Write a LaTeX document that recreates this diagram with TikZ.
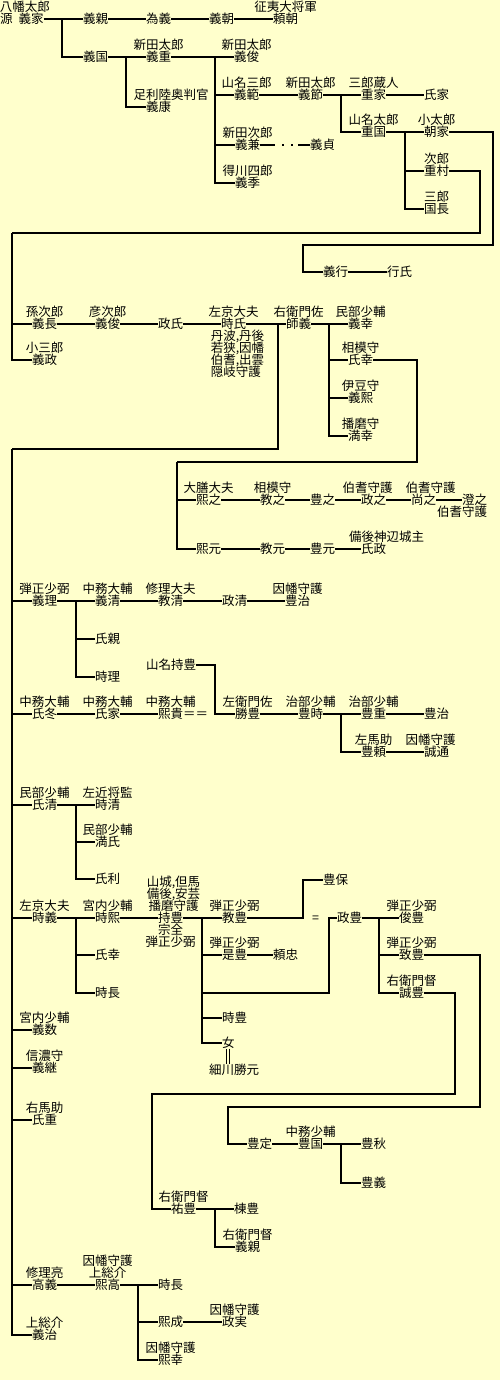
\documentclass[tikz,border=0pt]{standalone}
\usepackage{fontspec}
\newfontfamily\jpfont{Noto Sans CJK JP}
\usetikzlibrary{positioning}
\definecolor{paper}{HTML}{FFFFCC}
\setlength{\lineskiplimit}{-10pt}

\begin{document}
\begin{tikzpicture}[x=1pt, y=-1pt, line width=1.2pt,
  nm/.style={anchor=west, inner sep=0pt, outer sep=0pt, text height=10.5pt, text depth=0.9pt,
    font=\jpfont\fontsize{12.5}{12}\selectfont},
  ttl/.style={inner sep=0pt, outer sep=0pt, text height=10.5pt, text depth=0.9pt,
    font=\jpfont\fontsize{12.5}{12}\selectfont},
  note/.style={inner sep=0pt, outer sep=0pt, font=\jpfont\fontsize{12.5}{12}\selectfont}]
\fill[paper] (0,0) rectangle (500,1380);
\useasboundingbox (0,0) rectangle (500,1380);

% --- Minamoto main line
\node[nm] (yoshiie) at (0,19) {源\hspace{6pt}義家};
\node[ttl, above=0.6pt of yoshiie, xshift=3pt] (yoshiie-t) {八幡太郎};
\node[nm] (yoshichika) at (83,19) {義親};
\node[nm] (tameyoshi) at (146,19) {為義};
\node[nm] (yoshitomo) at (209,19) {義朝};
\node[nm] (yoritomo) at (273,19) {頼朝};
\node[ttl, above=0.6pt of yoritomo] (yoritomo-t) {征夷大将軍};

% --- Nitta / Yamana
\node[nm] (yoshikuni) at (83,57) {義国};
\node[nm] (yoshishige) at (146,57) {義重};
\node[ttl, above=0.6pt of yoshishige] (yoshishige-t) {新田太郎};
\node[nm] (yoshiyasu) at (146,107) {義康};
\node[ttl, above=0.6pt of yoshiyasu, xshift=12.5pt] (yoshiyasu-t) {足利陸奥判官};
\node[nm] (yoshitoshiA) at (234,57) {義俊};
\node[ttl, above=0.6pt of yoshitoshiA] (yoshitoshiA-t) {新田太郎};
\node[nm] (yoshinori) at (234,95) {義範};
\node[ttl, above=0.6pt of yoshinori] (yoshinori-t) {山名三郎};
\node[nm] (yoshitoki) at (298,95) {義節};
\node[ttl, above=0.6pt of yoshitoki] (yoshitoki-t) {新田太郎};
\node[nm] (shigeie) at (361,95) {重家};
\node[ttl, above=0.6pt of shigeie] (shigeie-t) {三郎蔵人};
\node[nm] (ujiieA) at (424,95) {氏家};
\node[nm] (shigekuni) at (361,132) {重国};
\node[ttl, above=0.6pt of shigekuni] (shigekuni-t) {山名太郎};
\node[nm] (tomoie) at (424,132) {朝家};
\node[ttl, above=0.6pt of tomoie] (tomoie-t) {小太郎};
\node[nm] (shigemura) at (424,171) {重村};
\node[ttl, above=0.6pt of shigemura] (shigemura-t) {次郎};
\node[nm] (kuninaga) at (424,209) {国長};
\node[ttl, above=0.6pt of kuninaga] (kuninaga-t) {三郎};
\node[nm] (yoshikane) at (235,145) {義兼};
\node[ttl, above=0.6pt of yoshikane] (yoshikane-t) {新田次郎};
\node[nm] (yoshisada) at (310,145) {義貞};
\node[nm] (yoshisue) at (235,183) {義季};
\node[ttl, above=0.6pt of yoshisue] (yoshisue-t) {得川四郎};
\node[nm] (yoshiyukiA) at (323,272) {義行};
\node[nm] (yukiuji) at (387,272) {行氏};

\draw (yoshiie) -- (yoshichika) (yoshichika) -- (tameyoshi)
  (tameyoshi) -- (yoshitomo) (yoshitomo) -- (yoritomo);
\draw (yoshikuni) -- (yoshishige) (yoshishige) -- (yoshitoshiA);
\draw (yoshinori) -- (yoshitoki) (yoshitoki) -- (shigeie) (shigeie) -- (ujiieA);
\draw (shigekuni) -- (tomoie);
\draw (yoshiyukiA) -- (yukiuji);
\draw[dash pattern=on 15pt off 7pt on 2pt off 7pt on 2pt off 5pt on 30pt off 1pt]
  (yoshikane) -- (yoshisada);
\coordinate (j1) at (62,19);
\coordinate (j2) at (126,57);
\coordinate (j3) at (215,57);
\coordinate (j4) at (341,95);
\coordinate (j5) at (405,132);
\draw (j1) |- (yoshikuni);
\draw (j2) |- (yoshiyasu);
\foreach \k in {yoshinori,yoshikane,yoshisue} \draw (j3) |- (\k);
\draw (j4) |- (shigekuni);
\foreach \k in {shigemura,kuninaga} \draw (j5) |- (\k);
\coordinate (c1) at (493,245);
\coordinate (c2) at (303,272);
\draw (tomoie) -| (c1) -| (c2) -- (yoshiyukiA);

% --- Yamana, from Shigemura
\node[nm] (yoshinaga) at (32,324) {義長};
\node[ttl, above=0.6pt of yoshinaga] (yoshinaga-t) {孫次郎};
\node[nm] (yoshimasa) at (32,360) {義政};
\node[ttl, above=0.6pt of yoshimasa] (yoshimasa-t) {小三郎};
\node[nm] (yoshitoshiB) at (95,324) {義俊};
\node[ttl, above=0.6pt of yoshitoshiB] (yoshitoshiB-t) {彦次郎};
\node[nm] (masauji) at (158,324) {政氏};
\node[nm] (tokiuji) at (221,324) {時氏};
\node[ttl, above=0.6pt of tokiuji] (tokiuji-t) {左京大夫};
\node[note, align=left, below=0.6pt of tokiuji, xshift=4pt] (tokiuji-n)
  {丹波,丹後\\若狭,因幡\\伯耆,出雲\\隠岐守護};
\node[nm] (moroyoshi) at (286,324) {師義};
\node[ttl, above=0.6pt of moroyoshi] (moroyoshi-t) {右衛門佐};
\node[nm] (yoshiyukiB) at (348,324) {義幸};
\node[ttl, above=0.6pt of yoshiyukiB] (yoshiyukiB-t) {民部少輔};
\node[nm] (ujiyukiA) at (348,360) {氏幸};
\node[ttl, above=0.6pt of ujiyukiA] (ujiyukiA-t) {相模守};
\node[nm] (yoshihiro) at (348,398) {義熙};
\node[ttl, above=0.6pt of yoshihiro] (yoshihiro-t) {伊豆守};
\node[nm] (mitsuyuki) at (348,436) {満幸};
\node[ttl, above=0.6pt of mitsuyuki] (mitsuyuki-t) {播磨守};

\coordinate (c3) at (480,233);
\coordinate (sA) at (12,233);
\draw (shigemura) -| (c3) -- (sA);
\foreach \k in {yoshinaga,yoshimasa} \draw (sA) |- (\k);
\draw (yoshinaga) -- (yoshitoshiB) (yoshitoshiB) -- (masauji) (masauji) -- (tokiuji)
  (tokiuji) -- (moroyoshi) (moroyoshi) -- (yoshiyukiB);
\coordinate (j7) at (329,324);
\foreach \k in {ujiyukiA,yoshihiro,mitsuyuki} \draw (j7) |- (\k);

% --- Hoki line, from Ujiyuki
\node[nm] (hiroyuki) at (196,500) {熙之};
\node[ttl, above=0.6pt of hiroyuki] (hiroyuki-t) {大膳大夫};
\node[nm] (noriyuki) at (260,500) {教之};
\node[ttl, above=0.6pt of noriyuki] (noriyuki-t) {相模守};
\node[nm] (toyoyuki) at (310,500) {豊之};
\node[nm] (masayuki) at (361,500) {政之};
\node[ttl, above=0.6pt of masayuki, xshift=-6pt] (masayuki-t) {伯耆守護};
\node[nm] (hisayuki) at (411,500) {尚之};
\node[ttl, above=0.6pt of hisayuki, xshift=7pt] (hisayuki-t) {伯耆守護};
\node[nm] (sumiyuki) at (462,500) {澄之};
\node[ttl, below=0.6pt of sumiyuki, xshift=-12.5pt] (sumiyuki-n) {伯耆守護};
\node[nm] (hiromoto) at (196,549) {熙元};
\node[nm] (norimoto) at (260,549) {教元};
\node[nm] (toyomoto) at (310,549) {豊元};
\node[nm] (ujimasa) at (361,549) {氏政};
\node[ttl, above=0.6pt of ujimasa, xshift=13pt] (ujimasa-t) {備後神辺城主};

\coordinate (c5) at (417,462);
\coordinate (sC) at (177,462);
\draw (ujiyukiA) -| (c5) -- (sC);
\foreach \k in {hiroyuki,hiromoto} \draw (sC) |- (\k);
\draw (hiroyuki) -- (noriyuki) (noriyuki) -- (toyoyuki) (toyoyuki) -- (masayuki)
  (masayuki) -- (hisayuki) (hisayuki) -- (sumiyuki);
\draw (hiromoto) -- (norimoto) (norimoto) -- (toyomoto) (toyomoto) -- (ujimasa);

% --- sons of Moroyoshi
\node[nm] (yoshitada) at (32,601) {義理};
\node[ttl, above=0.6pt of yoshitada] (yoshitada-t) {弾正少弼};
\node[nm] (yoshikiyo) at (95,601) {義清};
\node[ttl, above=0.6pt of yoshikiyo] (yoshikiyo-t) {中務大輔};
\node[nm] (norikiyo) at (158,601) {教清};
\node[ttl, above=0.6pt of norikiyo] (norikiyo-t) {修理大夫};
\node[nm] (masakiyo) at (222,601) {政清};
\node[nm] (toyoharuA) at (285,601) {豊治};
\node[ttl, above=0.6pt of toyoharuA] (toyoharuA-t) {因幡守護};
\node[nm] (ujichika) at (95,639) {氏親};
\node[nm] (tokitada) at (95,677) {時理};
\node[nm] (mochitoyoA) at (146,665) {山名持豊};

\node[nm] (ujifuyu) at (32,714) {氏冬};
\node[ttl, above=0.6pt of ujifuyu] (ujifuyu-t) {中務大輔};
\node[nm] (ujiieB) at (95,714) {氏家};
\node[ttl, above=0.6pt of ujiieB] (ujiieB-t) {中務大輔};
\node[nm] (hirotaka) at (158,714) {熙貴＝＝};
\node[ttl, above=0.6pt of hirotaka, xshift=-12.5pt] (hirotaka-t) {中務大輔};
\node[nm] (katsutoyo) at (235,714) {勝豊};
\node[ttl, above=0.6pt of katsutoyo] (katsutoyo-t) {左衛門佐};
\node[nm] (toyotoki) at (298,714) {豊時};
\node[ttl, above=0.6pt of toyotoki] (toyotoki-t) {治部少輔};
\node[nm] (toyoshige) at (361,714) {豊重};
\node[ttl, above=0.6pt of toyoshige] (toyoshige-t) {治部少輔};
\node[nm] (toyoharuB) at (424,714) {豊治};
\node[nm] (toyoyori) at (361,752) {豊頼};
\node[ttl, above=0.6pt of toyoyori] (toyoyori-t) {左馬助};
\node[nm] (nobumichi) at (424,752) {誠通};
\node[ttl, above=0.6pt of nobumichi, xshift=-6pt] (nobumichi-t) {因幡守護};

\node[nm] (ujikiyo) at (32,805) {氏清};
\node[ttl, above=0.6pt of ujikiyo] (ujikiyo-t) {民部少輔};
\node[nm] (tokikiyo) at (95,805) {時清};
\node[ttl, above=0.6pt of tokikiyo] (tokikiyo-t) {左近将監};
\node[nm] (mitsuuji) at (95,842) {満氏};
\node[ttl, above=0.6pt of mitsuuji] (mitsuuji-t) {民部少輔};
\node[nm] (ujitoshi) at (95,879) {氏利};

\node[nm] (tokiyoshi) at (32,918) {時義};
\node[ttl, above=0.6pt of tokiyoshi] (tokiyoshi-t) {左京大夫};
\node[nm] (tokihiro) at (95,918) {時熙};
\node[ttl, above=0.6pt of tokihiro] (tokihiro-t) {宮内少輔};
\node[nm] (ujiyukiB) at (95,955) {氏幸};
\node[nm] (tokinagaA) at (95,993) {時長};
\node[nm] (mochitoyo) at (158,918) {持豊};
\node[note, align=center, above=0.6pt of mochitoyo, xshift=3pt] (mochitoyo-t)
  {山城,但馬\\備後,安芸\\播磨守護};
\node[note, align=center, below=0.6pt of mochitoyo] (mochitoyo-n) {宗全\\弾正少弼};
\node[nm] (noritoyo) at (222,918) {教豊};
\node[ttl, above=0.6pt of noritoyo] (noritoyo-t) {弾正少弼};
\node[nm] (toyoyasu) at (323,880) {豊保};
\node[nm] (eq) at (312,918) {=};
\node[nm] (koretoyo) at (222,955) {是豊};
\node[ttl, above=0.6pt of koretoyo] (koretoyo-t) {弾正少弼};
\node[nm] (yoritada) at (273,955) {頼忠};
\node[nm] (masatoyo) at (337,918) {政豊};
\node[nm] (toshitoyo) at (399,918) {俊豊};
\node[ttl, above=0.6pt of toshitoyo] (toshitoyo-t) {弾正少弼};
\node[nm] (okitoyo) at (399,955) {致豊};
\node[ttl, above=0.6pt of okitoyo] (okitoyo-t) {弾正少弼};
\node[nm] (nobutoyo) at (399,993) {誠豊};
\node[ttl, above=0.6pt of nobutoyo] (nobutoyo-t) {右衛門督};
\node[nm] (tokitoyo) at (222,1018) {時豊};
\node[nm] (onna) at (222,1043) {女};
\node[nm] (katsumoto) at (209,1070) {細川勝元};

\node[nm] (yoshikazu) at (32,1030) {義数};
\node[ttl, above=0.6pt of yoshikazu] (yoshikazu-t) {宮内少輔};
\node[nm] (yoshitsugu) at (32,1068) {義継};
\node[ttl, above=0.6pt of yoshitsugu] (yoshitsugu-t) {信濃守};
\node[nm] (ujishige) at (32,1120) {氏重};
\node[ttl, above=0.6pt of ujishige] (ujishige-t) {右馬助};

\node[nm] (toyosada) at (247,1144) {豊定};
\node[nm] (toyokuni) at (298,1144) {豊国};
\node[ttl, above=0.6pt of toyokuni] (toyokuni-t) {中務少輔};
\node[nm] (toyoaki) at (361,1144) {豊秋};
\node[nm] (toyoyoshi) at (361,1183) {豊義};
\node[nm] (suketoyo) at (171,1209) {祐豊};
\node[ttl, above=0.6pt of suketoyo] (suketoyo-t) {右衛門督};
\node[nm] (munetoyo) at (234,1209) {棟豊};
\node[nm] (yoshichikaB) at (235,1247) {義親};
\node[ttl, above=0.6pt of yoshichikaB] (yoshichikaB-t) {右衛門督};

\node[nm] (takayoshi) at (32,1285) {高義};
\node[ttl, above=0.6pt of takayoshi] (takayoshi-t) {修理亮};
\node[nm] (hirotakaB) at (95,1285) {熙高};
\node[note, align=center, above=0.6pt of hirotakaB] (hirotakaB-t) {因幡守護\\上総介};
\node[nm] (tokinagaB) at (158,1285) {時長};
\node[nm] (hironari) at (158,1322) {熙成};
\node[nm] (masazane) at (222,1322) {政実};
\node[ttl, above=0.6pt of masazane] (masazane-t) {因幡守護};
\node[nm] (hiroyukiB) at (158,1360) {熙幸};
\node[ttl, above=0.6pt of hiroyukiB] (hiroyukiB-t) {因幡守護};
\node[nm] (yoshiharu) at (32,1335) {義治};
\node[ttl, above=0.6pt of yoshiharu] (yoshiharu-t) {上総介};

% main spine
\coordinate (jm) at (278,324);
\coordinate (sB) at (12,449);
\draw (jm) |- (sB);
\foreach \k in {yoshitada,ujifuyu,ujikiyo,tokiyoshi,yoshikazu,yoshitsugu,ujishige,takayoshi,yoshiharu}
  \draw (sB) |- (\k);

\draw (yoshitada) -- (yoshikiyo) (yoshikiyo) -- (norikiyo) (norikiyo) -- (masakiyo)
  (masakiyo) -- (toyoharuA);
\coordinate (j8) at (76,601);
\foreach \k in {ujichika,tokitada} \draw (j8) |- (\k);

\draw (ujifuyu) -- (ujiieB) (ujiieB) -- (hirotaka);
\coordinate (c6) at (215,714);
\draw (mochitoyoA) -| (c6) -- (katsutoyo);
\draw (katsutoyo) -- (toyotoki) (toyotoki) -- (toyoshige) (toyoshige) -- (toyoharuB);
\draw (toyoyori) -- (nobumichi);
\coordinate (j9) at (341,714);
\draw (j9) |- (toyoyori);

\draw (ujikiyo) -- (tokikiyo);
\coordinate (j10) at (76,805);
\foreach \k in {mitsuuji,ujitoshi} \draw (j10) |- (\k);

\draw (tokiyoshi) -- (tokihiro) (tokihiro) -- (mochitoyo) (mochitoyo) -- (noritoyo);
\coordinate (j11) at (76,918);
\foreach \k in {ujiyukiB,tokinagaA} \draw (j11) |- (\k);
\coordinate (j12) at (202,918);
\foreach \k in {koretoyo,tokitoyo,onna} \draw (j12) |- (\k);
\draw (koretoyo) -- (yoritada);
\draw[double=paper, double distance=2.4pt, line width=0.7pt] (onna) -- (onna |- katsumoto.north);
\coordinate (c8) at (303,880);
\draw (noritoyo) -| (c8) -- (toyoyasu);
\coordinate (c7) at (329,993);
\draw (j12) |- (c7) |- (masatoyo);
\draw (masatoyo) -- (toshitoyo);
\coordinate (j13) at (379,918);
\foreach \k in {okitoyo,nobutoyo} \draw (j13) |- (\k);

\coordinate (c9) at (480,1107);
\coordinate (c10) at (228,1144);
\draw (okitoyo) -| (c9) -| (c10) -- (toyosada);
\draw (toyosada) -- (toyokuni) (toyokuni) -- (toyoaki);
\coordinate (j14) at (341,1144);
\draw (j14) |- (toyoyoshi);
\coordinate (c11) at (455,1094);
\coordinate (c12) at (152,1209);
\draw (nobutoyo) -| (c11) -| (c12) -- (suketoyo);
\draw (suketoyo) -- (munetoyo);
\coordinate (j15) at (215,1209);
\draw (j15) |- (yoshichikaB);

\draw (takayoshi) -- (hirotakaB) (hirotakaB) -- (tokinagaB);
\coordinate (j16) at (138,1285);
\foreach \k in {hironari,hiroyukiB} \draw (j16) |- (\k);
\draw (hironari) -- (masazane);
\end{tikzpicture}
\end{document}
